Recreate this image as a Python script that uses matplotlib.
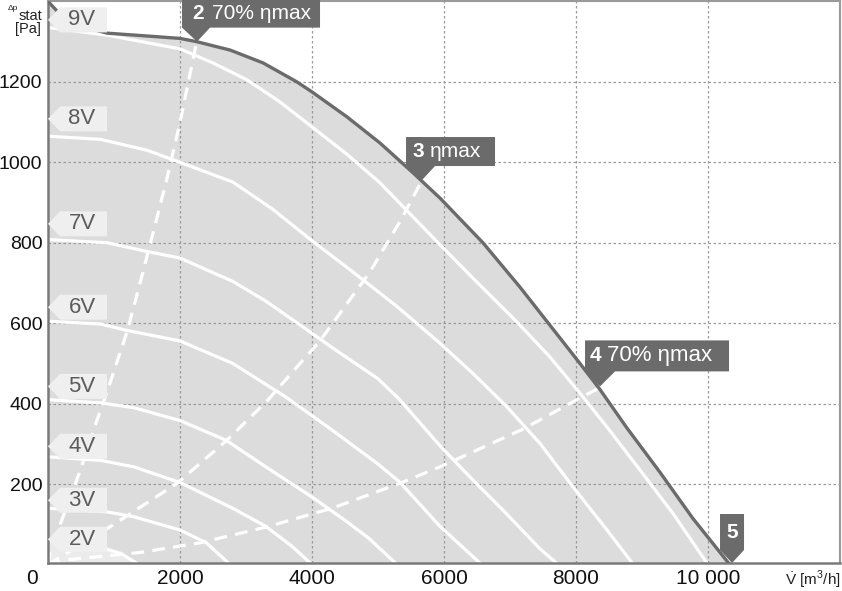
import matplotlib.pyplot as plt
from matplotlib.patches import Polygon
from matplotlib.transforms import IdentityTransform

plt.rcParams['font.family'] = ['Liberation Sans', 'DejaVu Sans']
plt.rcParams['mathtext.fontset'] = 'custom'
plt.rcParams['mathtext.rm'] = 'Liberation Sans'

# envelope (max curve)
max_q = [0, 200, 500, 900, 1500, 2000, 2250, 2760, 3260, 3770, 4000, 4530, 5030, 5530, 5940, 6590, 7150, 7610, 8060, 8360, 8770, 9270, 9770, 10330]
max_p = [1400, 1365, 1338, 1321, 1314, 1308, 1300, 1279, 1247, 1200, 1175, 1113, 1048, 974, 911, 800, 690, 594, 500, 436, 340, 230, 115, 0]

# speed curves per control voltage
q9 = [0, 900, 2000, 2500, 3015, 3515, 4000, 4530, 5030, 5940, 6440, 7106, 7606, 8060, 8470, 8970, 9470, 10000]
p9 = [1335, 1316, 1282, 1247, 1205, 1150, 1088, 1020, 949, 795, 712, 603, 516, 426, 342, 235, 127, 0]
q8 = [0, 800, 1500, 2000, 2800, 3400, 4000, 4600, 5300, 5940, 6440, 6955, 7455, 7955, 8470, 8870]
p8 = [1065, 1057, 1030, 1000, 951, 884, 805, 730, 640, 550, 475, 392, 301, 193, 86, 0]
q7 = [0, 900, 1450, 2000, 2800, 3300, 3800, 4300, 5000, 5330, 5940, 6440, 6955, 7450, 7730]
p7 = [808, 800, 780, 762, 704, 655, 598, 540, 462, 410, 295, 210, 125, 40, 0]
q6 = [0, 800, 1200, 2000, 2800, 3600, 4300, 5000, 5330, 5940, 6570]
p6 = [605, 598, 582, 556, 500, 417, 335, 250, 205, 95, 0]
q5 = [0, 800, 1300, 2000, 2700, 3300, 4000, 4500, 4850, 5290]
p5 = [410, 402, 390, 358, 309, 243, 168, 110, 67, 0]
q4 = [0, 800, 1300, 2000, 2800, 3300, 3700, 4000]
p4 = [268, 259, 243, 204, 140, 95, 45, 0]
q3 = [0, 900, 1300, 2000, 2400, 2760]
p3 = [140, 131, 119, 86, 54, 0]
q2 = [0, 500, 900, 1100, 1300, 1380]
p2 = [60, 52, 38, 28, 8, 0]

volt_labels = ['9V', '8V', '7V', '6V', '5V', '4V', '3V', '2V']
volt_label_p = [1354, 1108, 847, 640, 443, 294, 160, 63]

# efficiency lines
eff2_q = [0, 30, 210, 490, 740, 900, 1200, 1440, 1800, 2000, 2250]
eff2_p = [0, 30, 111, 235, 358, 432, 580, 728, 958, 1099, 1298]
eff3_q = [0, 940, 1955, 2710, 3320, 4120, 4880, 5330, 5670]
eff3_p = [0, 94, 202, 309, 407, 556, 728, 852, 956]
eff4_q = [0, 290, 1390, 2300, 3320, 4320, 5330, 5940, 7200, 8060, 8360]
eff4_p = [0, 12, 30, 54, 94, 141, 202, 243, 337, 414, 440]

mark_q = [2258, 5667, 8364, 10364]
mark_p = [1300, 956, 443, 4]
mark_num = ['2', '3', '4', '5']
mark_txt = ['70% ηmax', 'ηmax', '70% ηmax', '']

xticks = [2000, 4000, 6000, 8000, 10000]
xticklabels = ['2000', '4000', '6000', '8000', '10 000']
yticks = [200, 400, 600, 800, 1000, 1200]

fig = plt.figure(figsize=(8.42, 5.91), dpi=100)
ax = fig.add_axes([48/842, 28/591, 792/842, 562/591])
ax.set_xlim(0, 12000)
ax.set_ylim(4, 1401)

ax.fill_between(max_q, max_p, 0, color='#dcdcdc', lw=0, zorder=1)
ax.fill_between(q2, p2, 0, color='#ebebeb', lw=0, zorder=1.1)

ax.set_axisbelow('line')
ax.grid(True, color='#9a9a9a', lw=0.9, linestyle=(0, (2, 2)))

for q, p in [(q9, p9), (q8, p8), (q7, p7), (q6, p6), (q5, p5), (q4, p4), (q3, p3), (q2, p2)]:
    ax.plot(q, p, color='white', lw=2.3, zorder=2, solid_capstyle='butt', solid_joinstyle='round')
for q, p in [(eff2_q, eff2_p), (eff3_q, eff3_p), (eff4_q, eff4_p)]:
    ax.plot(q, p, color='white', lw=2.3, linestyle=(0, (4, 2.6)), zorder=2.5)

ax.plot(max_q, max_p, color='#6b6b6b', lw=2.4, zorder=3, solid_joinstyle='round')

ax.set_xticks(xticks)
ax.set_xticklabels(xticklabels)
ax.set_yticks(yticks)
ax.tick_params(length=0, colors='#111111')
ax.tick_params(axis='x', pad=4, labelsize=15)
ax.tick_params(axis='y', pad=4, labelsize=14)
for s in ['top', 'right']:
    ax.spines[s].set_color('#9a9a9a')
    ax.spines[s].set_linewidth(1.5)
for s in ['left', 'bottom']:
    ax.spines[s].set_color('#7a7a7a')
    ax.spines[s].set_linewidth(1.8)


def shape_at(q, p, offsets, color, z):
    x0, y0 = ax.transData.transform((q, p))
    verts = [(x0 + dx, y0 + dy) for dx, dy in offsets]
    ax.add_patch(Polygon(verts, closed=True, transform=IdentityTransform(),
                         fc=color, ec='none', zorder=z, clip_on=False))


# voltage labels (arrows pointing at the axis)
arrow = [(0, 0), (12, 12.5), (59, 12.5), (59, -12.5), (12, -12.5)]
for lab, p in zip(volt_labels, volt_label_p):
    shape_at(0, p, arrow, '#efefef', 4)
    ax.annotate(lab, (0, p), xytext=(34, 0), textcoords='offset pixels',
                ha='center', va='center', fontsize=16, color='#5c5c5c',
                zorder=5, annotation_clip=False)

# operating point tags
tag_shapes = [
    [(0, 0), (-15, 14), (-15, 45), (123, 45), (123, 14), (13, 14)],
    [(0, 0), (-16, 14), (-16, 43), (73, 43), (73, 14), (13, 14)],
    [(0, 0), (-15, 15), (-15, 46), (129, 46), (129, 15), (15, 15)],
    [(0, 0), (-12, 13), (-12, 49), (12, 49), (12, 13)],
]
num_off = [(-5, 28), (-10, 28.5), (-10, 30.5), (0, 31)]
txt_off = [(15, 28), (8, 28.5), (7, 30.5), (0, 31)]
txt_size = [15, 15, 16, 15]
for i in range(4):
    shape_at(mark_q[i], mark_p[i], tag_shapes[i], '#6b6b6b', 4)
    ha = 'center' if mark_txt[i] == '' else 'left'
    ax.annotate(mark_num[i], (mark_q[i], mark_p[i]), xytext=num_off[i],
                textcoords='offset pixels', ha=ha, va='center', fontsize=15,
                fontweight='bold', color='white', zorder=5, annotation_clip=False)
    if mark_txt[i]:
        ax.annotate(mark_txt[i], (mark_q[i], mark_p[i]), xytext=txt_off[i],
                    textcoords='offset pixels', ha='left', va='center', fontsize=txt_size[i],
                    color='white', zorder=5, annotation_clip=False)

# axis captions
fig.text(13/842, 1 - 8/591, 'Δp', ha='center', va='center', fontsize=6, color='#222222')
fig.text(30/842, 1 - 16/591, 'stat', ha='center', va='center', fontsize=10.5, color='#222222')
fig.text(28/842, 1 - 29/591, '[Pa]', ha='center', va='center', fontsize=10.5, color='#222222')
fig.text(841/842, 1 - 580/591, r'$\dot{\mathrm{V}}$ [m$^3$/h]', ha='right', va='center',
         fontsize=11, color='#222222')
fig.text(32/842, 1 - 578/591, '0', ha='center', va='center', fontsize=15, color='#111111')

plt.savefig('out.png', dpi=100)
